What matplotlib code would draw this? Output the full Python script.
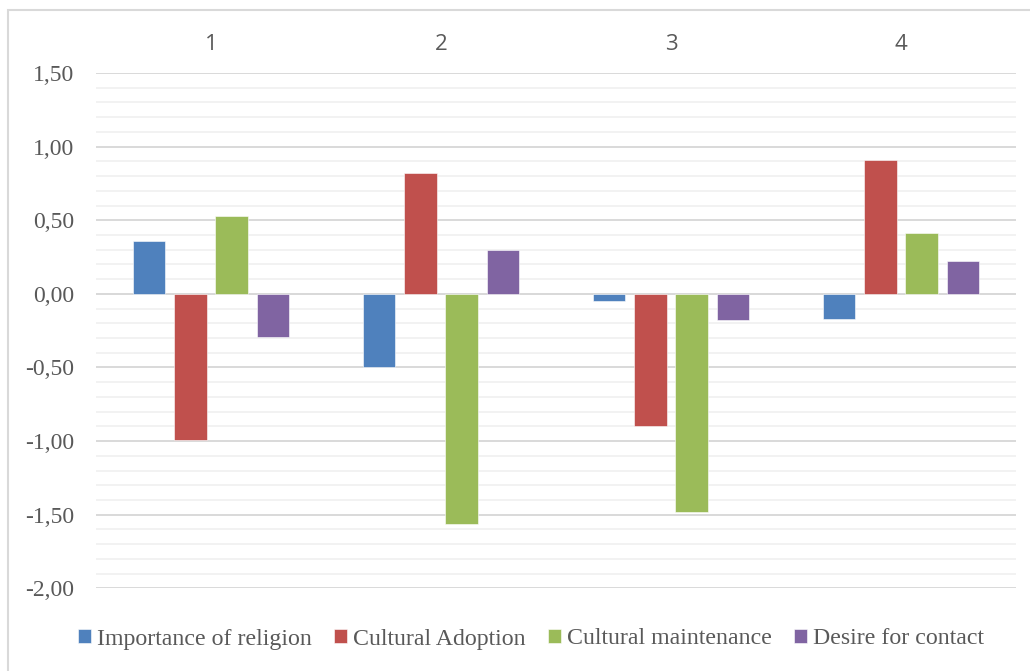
import numpy as np
import matplotlib
matplotlib.use("Agg")
import matplotlib.pyplot as plt
from matplotlib.patches import Rectangle
from matplotlib.ticker import MultipleLocator, FuncFormatter

plt.rcParams["font.family"] = "serif"
plt.rcParams["font.serif"] = ["Liberation Serif", "DejaVu Serif"]

# cluster means per factor
clusters = ["1", "2", "3", "4"]
series = ["Importance of religion", "Cultural Adoption",
          "Cultural maintenance", "Desire for contact"]
religion = [0.36, -0.50, -0.05, -0.17]
adoption = [-0.99, 0.82, -0.90, 0.91]
maintenance = [0.53, -1.56, -1.48, 0.41]
contact = [-0.29, 0.30, -0.18, 0.22]
colors = ["#4F81BD", "#C0504D", "#9BBB59", "#8064A2"]

W, H = 1030, 671
fig = plt.figure(figsize=(W / 100, H / 100), dpi=100)
ax = fig.add_axes([96 / W, (H - 588.3) / H, (1016 - 96) / W, (588.3 - 73) / H])

x = np.arange(len(clusters))
step, width = 0.18, 0.142
for k, (name, vals) in enumerate(zip(series, [religion, adoption, maintenance, contact])):
    ax.bar(x + (k - 1.5) * step, vals, width, color=colors[k], label=name,
           edgecolor="white", linewidth=0.4, zorder=3)

ax.set_xlim(-0.5, len(clusters) - 0.5)
ax.set_ylim(-2.0, 1.5)
ax.yaxis.set_major_locator(MultipleLocator(0.5))
ax.yaxis.set_minor_locator(MultipleLocator(0.1))
ax.yaxis.set_major_formatter(FuncFormatter(lambda v, _: f"{v:.2f}".replace(".", ",")))
ax.grid(axis="y", which="minor", color="#f2f2f2", lw=1.4, zorder=0)
ax.grid(axis="y", which="major", color="#d9d9d9", lw=1.4, zorder=1)
ax.axhline(0, color="#d9d9d9", lw=1.4, zorder=2)

for s in ax.spines.values():
    s.set_visible(False)
ax.tick_params(axis="y", which="both", length=0, pad=15.5, labelsize=17,
               labelcolor="#595959", labelfontfamily="serif")

ax.xaxis.tick_top()
ax.set_xticks(x, labels=clusters)
ax.tick_params(axis="x", length=0, pad=13, labelsize=16, labelcolor="#595959",
               labelfontfamily="Open Sans")

fig.legend(loc="center", bbox_to_anchor=(531 / W, 1 - 639 / H), ncol=4,
           frameon=False, prop={"family": "serif", "size": 17.2},
           labelcolor="#595959", handlelength=0.52, handleheight=0.52,
           handletextpad=0.25, columnspacing=0.95, borderpad=0)

# chart-area border
fig.patches.append(Rectangle((8 / W, -0.1), 1.2, 1 - 10 / H + 0.1,
                             transform=fig.transFigure, fill=False,
                             edgecolor="#d9d9d9", lw=1.5))

fig.savefig("out.png", dpi=100)
